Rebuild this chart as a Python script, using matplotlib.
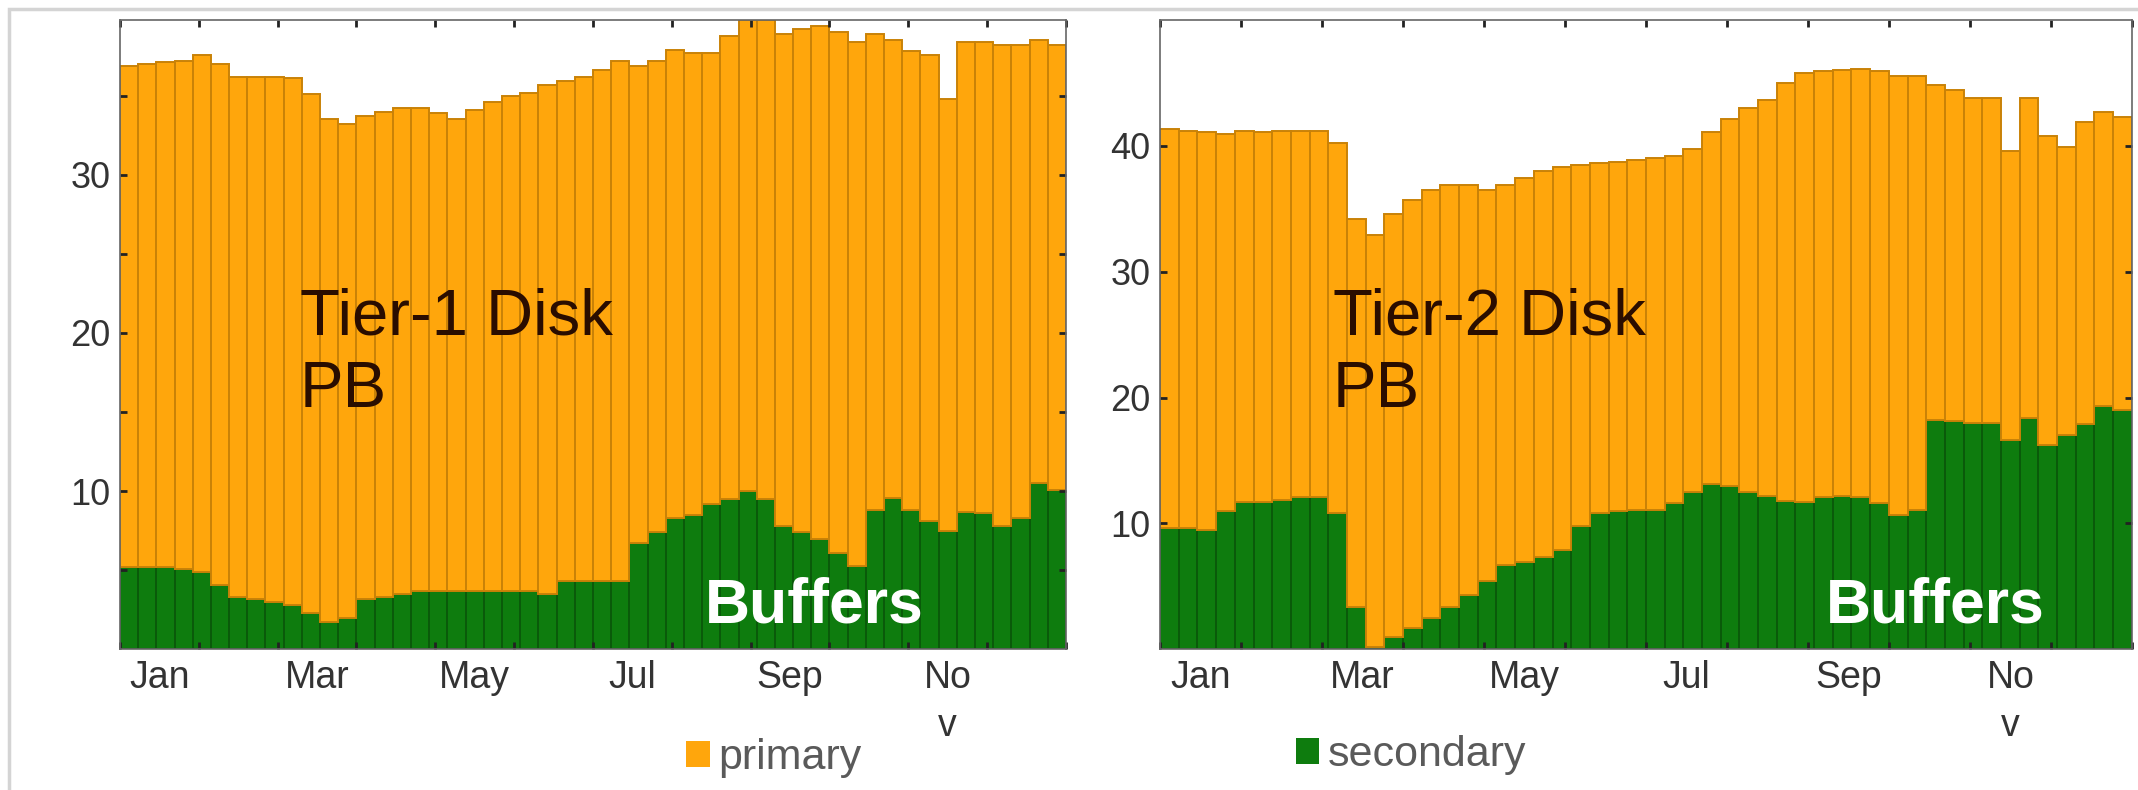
import matplotlib.pyplot as plt
import numpy as np
from matplotlib.patches import Patch, Rectangle

plt.rcParams['font.family'] = ['Liberation Sans', 'DejaVu Sans']

# weekly disk usage in PB (total = primary + secondary)
t1_total = [36.9, 37.0, 37.1, 37.2, 37.6, 37.0, 36.2, 36.2, 36.2, 36.1, 35.1, 33.5, 33.2,
            33.7, 34.0, 34.2, 34.2, 33.9, 33.5, 34.1, 34.6, 35.0, 35.2, 35.7, 35.9, 36.2,
            36.6, 37.2, 36.9, 37.2, 37.9, 37.7, 37.7, 38.8, 39.8, 39.8, 38.9, 39.2, 39.4,
            39.0, 38.4, 38.9, 38.5, 37.8, 37.6, 34.8, 38.4, 38.4, 38.2, 38.2, 38.5, 38.2]
t1_secondary = [5.2, 5.2, 5.2, 5.1, 4.9, 4.1, 3.3, 3.2, 3.0, 2.8, 2.3, 1.7, 2.0,
                3.2, 3.3, 3.5, 3.7, 3.7, 3.7, 3.7, 3.7, 3.7, 3.7, 3.5, 4.3, 4.3,
                4.3, 4.3, 6.7, 7.4, 8.3, 8.5, 9.2, 9.5, 10.0, 9.5, 7.8, 7.4, 7.0,
                6.1, 5.3, 8.8, 9.6, 8.8, 8.1, 7.5, 8.7, 8.6, 7.8, 8.3, 10.5, 10.1]

t2_total = [41.3, 41.2, 41.1, 40.9, 41.2, 41.1, 41.2, 41.2, 41.2, 40.2, 34.2, 32.9, 34.6,
            35.7, 36.5, 36.9, 36.9, 36.5, 36.9, 37.4, 38.0, 38.3, 38.5, 38.6, 38.7, 38.9,
            39.0, 39.2, 39.7, 41.1, 42.1, 43.0, 43.6, 45.0, 45.8, 45.9, 46.0, 46.1, 45.9,
            45.5, 45.5, 44.8, 44.4, 43.8, 43.8, 39.6, 43.8, 40.8, 39.9, 41.9, 42.7, 42.3]
t2_secondary = [9.6, 9.6, 9.5, 11.0, 11.7, 11.7, 11.9, 12.1, 12.1, 10.8, 3.4, 0.2, 1.0,
                1.7, 2.5, 3.4, 4.3, 5.4, 6.7, 6.9, 7.3, 7.9, 9.8, 10.8, 11.0, 11.1,
                11.1, 11.6, 12.5, 13.1, 13.0, 12.5, 12.2, 11.8, 11.7, 12.1, 12.2, 12.1, 11.6,
                10.7, 11.1, 18.2, 18.1, 18.0, 18.0, 16.6, 18.4, 16.2, 17.0, 17.9, 19.3, 19.0]

month_labels = ['Jan', 'Mar', 'May', 'Jul', 'Sep', 'No\nv']

ORANGE = '#FFA60C'
ORANGE_EDGE = '#C98207'
GREEN = '#0E7C0E'
GREEN_EDGE = '#0A5A0A'
TEXT_DARK = '#2a0d00'
TICK_GREY = '#333333'

fig = plt.figure(figsize=(21.38, 7.90), dpi=100)

# slide frame
fig.add_artist(Rectangle((0.004, -0.05), 1.2, 1.038, transform=fig.transFigure,
                         fill=False, edgecolor='#d4d4d4', linewidth=2.5))


def disk_panel(rect, total, secondary, ylim, yticks, minor_y, title, title_x):
    ax = fig.add_axes(rect)
    total = np.array(total)
    secondary = np.array(secondary)
    x = np.arange(len(total))
    ax.bar(x, secondary, width=1.0, color=GREEN, edgecolor=GREEN_EDGE, linewidth=1.4)
    ax.bar(x, total - secondary, bottom=secondary, width=1.0, color=ORANGE,
           edgecolor=ORANGE_EDGE, linewidth=1.4)
    n = len(total)
    ax.set_xlim(-0.5, n - 0.5)
    ax.set_ylim(*ylim)

    month = n / 12.0
    ax.set_xticks([-0.5 + month * m for m in range(13)])
    ax.set_xticklabels([])
    ax.set_xticks([-0.5 + month * (m + 0.5) for m in range(0, 12, 2)], minor=True)
    ax.set_xticklabels(month_labels, minor=True, fontsize=27, color=TICK_GREY,
                       linespacing=1.4)
    ax.tick_params(axis='x', which='minor', length=0, pad=8)
    ax.tick_params(axis='x', which='major', direction='in', length=5, width=2,
                   top=True, color='#222222')

    ax.set_yticks(yticks)
    ax.set_yticklabels([str(v) for v in yticks], fontsize=26, color=TICK_GREY)
    ax.set_yticks(minor_y, minor=True)
    ax.tick_params(axis='y', which='both', direction='in', length=5, width=2,
                   right=True, color='#222222', pad=7)

    for s in ax.spines.values():
        s.set_color('#666666')
        s.set_linewidth(1.2)

    ax.text(title_x, 0.50, title, transform=ax.transAxes, fontsize=47,
            color=TEXT_DARK, va='baseline', ha='left')
    ax.text(title_x, 0.385, 'PB', transform=ax.transAxes, fontsize=47,
            color=TEXT_DARK, va='baseline', ha='left')
    return ax


ax1 = disk_panel([0.0561, 0.178, 0.4425, 0.797], t1_total, t1_secondary,
                 (0, 39.8), [10, 20, 30], [5, 15, 25, 35], 'Tier-1 Disk', 0.19)
ax1.text(0.618, 0.043, 'Buffers', transform=ax1.transAxes, fontsize=45,
         fontweight='bold', color='white', va='baseline', ha='left')

ax2 = disk_panel([0.5426, 0.178, 0.4545, 0.797], t2_total, t2_secondary,
                 (0, 50), [10, 20, 30, 40], [], 'Tier-2 Disk', 0.178)
ax2.text(0.685, 0.043, 'Buffers', transform=ax2.transAxes, fontsize=45,
         fontweight='bold', color='white', va='baseline', ha='left')

legend_style = dict(frameon=False, fontsize=31, labelcolor='#5a5a5a',
                    handlelength=0.55, handleheight=0.55, handletextpad=0.2,
                    loc='center')
fig.legend(handles=[Patch(facecolor=ORANGE, edgecolor='none')], labels=['primary'],
           bbox_to_anchor=(0.362, 0.040), **legend_style)
fig.legend(handles=[Patch(facecolor=GREEN, edgecolor='none')], labels=['secondary'],
           bbox_to_anchor=(0.660, 0.044), **legend_style)

fig.savefig('out.png', dpi=100)
